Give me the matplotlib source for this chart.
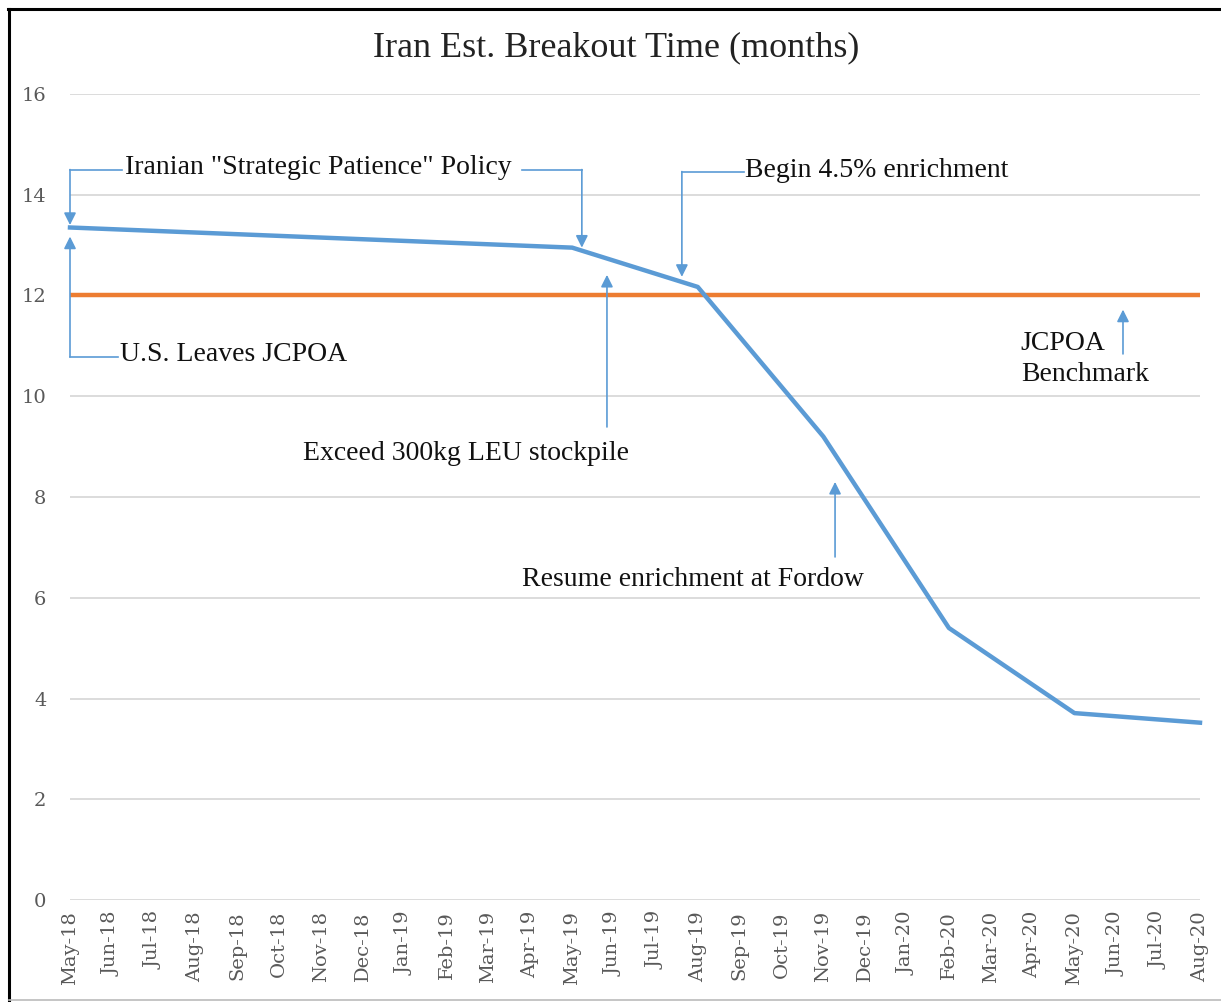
import matplotlib.pyplot as plt
from matplotlib.lines import Line2D

# Data
months = ['May-18', 'Jun-18', 'Jul-18', 'Aug-18', 'Sep-18', 'Oct-18', 'Nov-18',
          'Dec-18', 'Jan-19', 'Feb-19', 'Mar-19', 'Apr-19', 'May-19', 'Jun-19',
          'Jul-19', 'Aug-19', 'Sep-19', 'Oct-19', 'Nov-19', 'Dec-19', 'Jan-20',
          'Feb-20', 'Mar-20', 'Apr-20', 'May-20', 'Jun-20', 'Jul-20', 'Aug-20']
breakout_months = ['May-18', 'May-19', 'Aug-19', 'Nov-19', 'Feb-20', 'May-20', 'Aug-20']
breakout_values = [13.35, 12.95, 12.17, 9.2, 5.4, 3.71, 3.52]
benchmark = 12
y_ticks = [0, 2, 4, 6, 8, 10, 12, 14, 16]

blue = '#5B9BD5'
orange = '#ED7D31'
grey = '#595959'
serif = ['Liberation Serif', 'DejaVu Serif']

fig = plt.figure(figsize=(12.21, 10.02), dpi=100)
ax = fig.add_axes([70 / 1221, 1 - 900 / 1002, 1130 / 1221, 806 / 1002])

x_idx = [months.index(m) for m in breakout_months]
ax.plot(range(len(months)), [benchmark] * len(months), color=orange, lw=3.2,
        solid_capstyle='butt', clip_on=False, zorder=3)
ax.plot(x_idx, breakout_values, color=blue, lw=3.2, solid_joinstyle='round',
        clip_on=False, zorder=4)

ax.set_xlim(0, len(months) - 1)
ax.set_ylim(0, 16)
ax.set_yticks(y_ticks)
ax.set_xticks(range(len(months)))
ax.set_xticklabels(months, rotation=90)
ax.set_yticklabels([str(v) for v in y_ticks])
for t in ax.get_xticklabels() + ax.get_yticklabels():
    t.set_family(['DejaVu Serif', 'Liberation Serif'])
    t.set_fontsize(14)
    t.set_color(grey)
ax.tick_params(axis='both', length=0)
ax.tick_params(axis='y', pad=17)
ax.tick_params(axis='x', pad=8)
ax.grid(axis='y', color='#D9D9D9', lw=1.3)
ax.set_axisbelow(True)
for s in ax.spines.values():
    s.set_visible(False)

fig.text(616 / 1221, 1 - 48 / 1002, 'Iran Est. Breakout Time (months)', ha='center',
         va='center', fontsize=26, family=serif, color='#222222')

# annotation helpers
def seg(xs, ys):
    ax.plot(xs, ys, color=blue, lw=1.2, clip_on=False, zorder=5)

def arrow(x0, y0, x1, y1):
    ax.annotate('', xy=(x1, y1), xytext=(x0, y0),
                arrowprops=dict(arrowstyle='-|>', color=blue, lw=1.2,
                                mutation_scale=18, shrinkA=0, shrinkB=0),
                annotation_clip=False, zorder=5)

def label(x, y, s, ha='left'):
    ax.text(x, y, s, ha=ha, va='center', fontsize=20, family=serif,
            color='#111111', zorder=6)

# Iranian "Strategic Patience" Policy
label(1.31, 14.55, 'Iranian "Strategic Patience" Policy')
seg([1.25, 0], [14.5, 14.5])
arrow(0, 14.5, 0, 13.4)
seg([10.8, 12.23], [14.5, 14.5])
arrow(12.23, 14.5, 12.23, 12.95)

# U.S. Leaves JCPOA
label(1.19, 10.83, 'U.S. Leaves JCPOA')
seg([1.15, 0], [10.78, 10.78])
arrow(0, 10.78, 0, 13.17)

# Begin 4.5% enrichment
label(16.13, 14.49, 'Begin 4.5% enrichment')
seg([16.1, 14.62], [14.46, 14.46])
arrow(14.62, 14.46, 14.62, 12.37)

# Exceed 300kg LEU stockpile
label(9.46, 8.87, 'Exceed 300kg LEU stockpile', ha='center')
arrow(12.83, 9.39, 12.83, 12.41)

# Resume enrichment at Fordow
label(14.89, 6.37, 'Resume enrichment at Fordow', ha='center')
arrow(18.28, 6.81, 18.28, 8.30)

# JCPOA Benchmark
ax.text(22.72, 10.74, 'JCPOA\nBenchmark', ha='left', va='center', fontsize=20,
        family=serif, color='#111111', linespacing=1.3)
arrow(25.16, 10.84, 25.16, 11.72)

# frame around the picture
fig.add_artist(Line2D([9 / 1221, 9 / 1221], [1 - 1000 / 1002, 1 - 9 / 1002],
                      color='black', lw=2.2, transform=fig.transFigure))
fig.add_artist(Line2D([8 / 1221, 1], [1 - 9 / 1002, 1 - 9 / 1002],
                      color='black', lw=2.2, transform=fig.transFigure))
fig.add_artist(Line2D([9 / 1221, 1], [1 - 1000 / 1002, 1 - 1000 / 1002],
                      color='#BBBBBB', lw=1.2, transform=fig.transFigure))

fig.savefig('out.png', dpi=100)
